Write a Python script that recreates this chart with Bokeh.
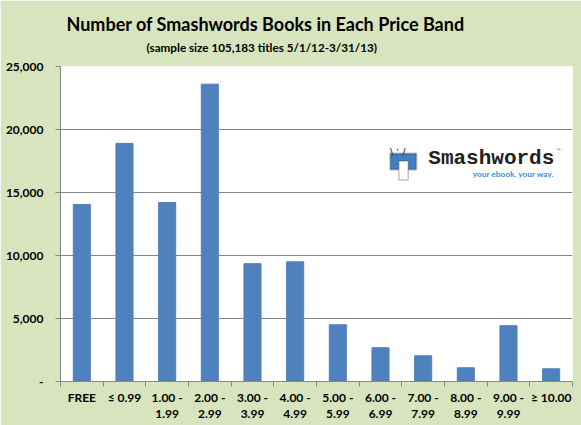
from bokeh.plotting import figure
from bokeh.models import (Range1d, LinearAxis, FixedTicker, Label, BoxAnnotation, Title,
                          ColumnDataSource)
from bokeh.embed import file_html
from bokeh.resources import INLINE

# ---- data ----
categories = ["FREE", "≤ 0.99", "1.00 -\n1.99", "2.00 -\n2.99", "3.00 -\n3.99", "4.00 -\n4.99",
              "5.00 -\n5.99", "6.00 -\n6.99", "7.00 -\n7.99", "8.00 -\n8.99", "9.00 -\n9.99", "≥ 10.00"]
books = [14050, 18900, 14200, 23600, 9350, 9500, 4500, 2680, 2040, 1090, 4430, 1010]
y_ticks = [0, 5000, 10000, 15000, 20000, 25000]
y_tick_labels = ["-", "5,000", "10,000", "15,000", "20,000", "25,000"]
title_text = "Number of Smashwords  Books in Each Price Band"
subtitle_text = "(sample size 105,183  titles 5/1/12-3/31/13)"

BG = "#d7e4bd"
BAR = "#4f81bd"
GRID = "#868686"
FONT = "Lato"

n = len(categories)
centers = [i + 0.5 for i in range(n)]
bounds = list(range(n + 1))
src = ColumnDataSource(dict(x=centers, top=books, cat=categories))

p = figure(frame_width=512, frame_height=315,
           x_range=Range1d(0, n), y_range=Range1d(0, 25000),
           output_backend="svg", toolbar_location=None, x_axis_location=None,
           title=title_text,
           min_border_left=60, min_border_right=9, min_border_top=66, min_border_bottom=44,
           background_fill_color="white", border_fill_color=BG, outline_line_color=None)

p.title.text_font = FONT
p.title.text_font_size = "18px"
p.title.text_font_style = "bold"
p.title.text_color = "black"
p.title.align = "left"
p.title.offset = 6
p.title.standoff = -18

sub = Title(text=subtitle_text, text_font=FONT, text_font_size="11.7px", text_font_style="bold",
            text_color="black", align="left", offset=86, standoff=25)
p.add_layout(sub, "above")

p.vbar(x="x", top="top", width=0.4, color=BAR, source=src)

# y axis
p.yaxis.ticker = FixedTicker(ticks=y_ticks)
p.yaxis.major_label_overrides = dict(zip(y_ticks, y_tick_labels))
p.yaxis.major_tick_out = 5
p.yaxis.major_tick_in = 0
p.yaxis.minor_tick_line_color = None
p.yaxis.axis_line_color = GRID
p.yaxis.major_tick_line_color = GRID
p.yaxis.major_label_standoff = 12
p.yaxis.major_label_text_font = FONT
p.yaxis.major_label_text_font_size = "12px"
p.yaxis.major_label_text_font_style = "bold"
p.yaxis.major_label_text_color = "black"

p.ygrid.ticker = FixedTicker(ticks=y_ticks)
p.ygrid.grid_line_color = GRID
p.xgrid.visible = False

# x axis: labels at category centers, tick marks at category boundaries
x_axis = LinearAxis(ticker=FixedTicker(ticks=centers, minor_ticks=bounds),
                    major_label_overrides=dict(zip(centers, categories)),
                    axis_line_color=GRID,
                    major_tick_line_color=None, major_tick_out=0, major_tick_in=0,
                    minor_tick_line_color=GRID, minor_tick_out=5, minor_tick_in=0,
                    major_label_standoff=3, major_label_text_font=FONT,
                    major_label_text_font_size="12px", major_label_text_font_style="bold",
                    major_label_text_line_height=1.1,
                    major_label_text_color="black")
p.add_layout(x_axis, "below")

# ---- logo (decoration) ----
p.add_layout(BoxAnnotation(left=7.73, right=8.34, bottom=16830, top=18100,
                           fill_color="#3f7fc6", fill_alpha=1, line_color="#333333", line_width=2))
p.add_layout(BoxAnnotation(left=7.93, right=8.15, bottom=16000, top=17500,
                           fill_color="white", fill_alpha=1, line_color="#333333", line_width=1.5))
p.add_layout(Label(x=8.05, y=18250, text="\\   ˈ   /", text_align="center",
                   text_baseline="middle", text_font="DejaVu Sans", text_font_size="9px",
                   text_color="#333333", text_font_style="bold"))
p.add_layout(Label(x=8.62, y=17700, text="Smashwords",
                   text_font="Liberation Mono", text_font_size="21px", text_font_style="bold",
                   text_baseline="middle", text_color="#222222"))
p.add_layout(Label(x=11.6, y=18350, text="™",
                   text_font="DejaVu Sans", text_font_size="6px", text_baseline="middle",
                   text_color="#333333"))
p.add_layout(Label(x=11.57, y=16430, text="your ebook. your way.",
                   text_align="right", text_baseline="middle", text_font=FONT,
                   text_font_size="8.3px", text_font_style="bold", text_color="#3a8fd9"))

open("out.html", "w").write(file_html(p, INLINE))
